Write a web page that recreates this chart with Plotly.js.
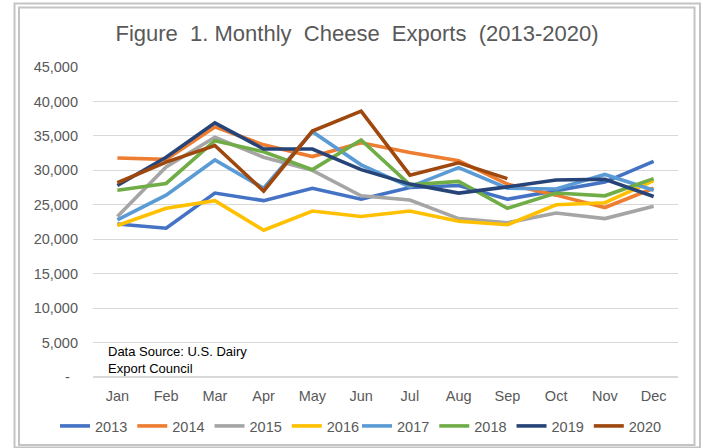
<!DOCTYPE html>
<html>
<head>
<meta charset="utf-8">
<script src="https://cdn.plot.ly/plotly-3.0.1.min.js"></script>
<style>
html,body{margin:0;padding:0;background:#fff;}
#chart{width:702px;height:448px;}
</style>
</head>
<body>
<div id="chart"></div>
<script>
const months = ['Jan','Feb','Mar','Apr','May','Jun','Jul','Aug','Sep','Oct','Nov','Dec'];
const years = ['2013','2014','2015','2016','2017','2018','2019','2020'];
const v2013 = [22200, 21600, 26700, 25600, 27400, 25800, 27500, 27800, 25800, 27000, 28300, 31300];
const v2014 = [31800, 31600, 36300, 33700, 32000, 34000, 32600, 31400, 28000, 26400, 24600, 27400];
const v2015 = [23300, 30500, 34800, 31900, 30000, 26300, 25700, 23000, 22400, 23800, 23000, 24800];
const v2016 = [22000, 24500, 25600, 21300, 24100, 23300, 24100, 22600, 22100, 25000, 25300, 28500];
const v2017 = [22800, 26400, 31500, 27400, 35600, 30800, 27600, 30400, 27400, 27300, 29400, 27100];
const v2018 = [27100, 28100, 34300, 32700, 30100, 34400, 27900, 28400, 24500, 26700, 26300, 28800];
const v2019 = [27800, 31900, 36900, 33100, 33100, 30100, 28000, 26700, 27600, 28600, 28700, 26200];
const v2020 = [28200, 31200, 33600, 27000, 35700, 38600, 29300, 31100, 28800];
const yTickVals = [0,5000,10000,15000,20000,25000,30000,35000,40000,45000];
const yTickText = ['-\u00a0\u00a0','5,000','10,000','15,000','20,000','25,000','30,000','35,000','40,000','45,000'];

const seriesValues = [v2013,v2014,v2015,v2016,v2017,v2018,v2019,v2020];
const colors = ['#4472C4','#ED7D31','#A5A5A5','#FFC000','#5B9BD5','#70AD47','#264478','#9E480E'];

const traces = years.map((y,i)=>({
  type:'scatter', mode:'lines', name:y,
  x: months.slice(0, seriesValues[i].length),
  y: seriesValues[i],
  line:{color:colors[i], width:3.6},
  legend: i < 4 ? 'legend' : 'legend2',
  hoverinfo:'skip'
}));

const L=93, R=678, T=67, B=377;
const W=R-L, H=B-T;
const px=(p)=>(p-L)/W;
const py=(p)=>(B-p)/H;

const legendCommon = {orientation:'h', xref:'container', yref:'container', xanchor:'left', yanchor:'middle',
  y:1-426/448, font:{size:14.5, color:'#595959'}, itemwidth:30, tracegroupgap:0, bgcolor:'rgba(0,0,0,0)', borderwidth:0};

const layout = {
  width:702, height:448,
  margin:{l:L, r:702-R, t:T, b:448-B, pad:0},
  paper_bgcolor:'#fff', plot_bgcolor:'#fff',
  font:{family:'"Liberation Sans", Arial, sans-serif', color:'#595959', size:14.5},
  title:{text:'Figure\u00a0 1. Monthly\u00a0 Cheese\u00a0 Exports\u00a0 (2013-2020)', x:357/702, xanchor:'center', y:1-33/448, yanchor:'middle',
         font:{size:22, color:'#595959'}},
  showlegend:true,
  legend: Object.assign({}, legendCommon, {x:55/702}),
  legend2: Object.assign({}, legendCommon, {x:(53+4*76)/702}),
  xaxis:{type:'category', range:[-0.5, 11.5], showgrid:false, zeroline:false, showline:false, ticks:'',
         tickfont:{size:14.5, color:'#595959'}, fixedrange:true, ticklabelstandoff:8, automargin:false},
  yaxis:{range:[0,45000], tickvals:yTickVals, ticktext:yTickText, showgrid:true, gridcolor:'#d9d9d9', gridwidth:1.2,
         zeroline:true, zerolinecolor:'#d9d9d9', zerolinewidth:1.2, showline:false, ticks:'',
         tickfont:{size:14.5, color:'#595959'}, fixedrange:true, ticklabelstandoff:14, automargin:false},
  annotations:[{text:'Data Source: U.S. Dairy<br>Export Council', xref:'paper', yref:'paper',
    x:px(106), xanchor:'left', y:py(360), yanchor:'middle', align:'left', showarrow:false,
    font:{size:13, color:'#000'}}],
  shapes:[
    {type:'rect', xref:'paper', yref:'paper', x0:px(14.5), x1:px(700), y0:py(447.5), y1:py(3.5), line:{color:'#c4c4c4', width:2}, layer:'above'},
    {type:'rect', xref:'paper', yref:'paper', x0:px(19), x1:px(694.5), y0:py(445), y1:py(7.5), line:{color:'#c4c4c4', width:2}, layer:'above'}
  ]
};

Plotly.newPlot('chart', traces, layout, {displayModeBar:false, staticPlot:true});
</script>
</body>
</html>
